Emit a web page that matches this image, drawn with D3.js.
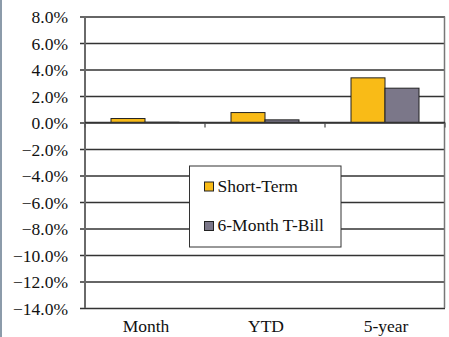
<!DOCTYPE html>
<html>
<head>
<meta charset="utf-8">
<script src="https://cdn.jsdelivr.net/npm/d3@7"></script>
<style>
  html, body { margin: 0; padding: 0; background: #fff; }
  svg { display: block; }
</style>
</head>
<body>
<svg id="chart" width="449" height="337"></svg>
<script>
// Returns by period
const categories = ["Month", "YTD", "5-year"];
const seriesNames = ["Short-Term", "6-Month T-Bill"];
const shortTerm = [0.0030, 0.0075, 0.0337];
const tBill = [0.0002, 0.0020, 0.0259];
const yTicks = [0.08, 0.06, 0.04, 0.02, 0, -0.02, -0.04, -0.06, -0.08, -0.10, -0.12, -0.14];
const colors = ["#F9BB17", "#7B7789"];

const FONT = "'Liberation Serif', 'DejaVu Serif', serif";
const svg = d3.select("#chart");
const W = 449, H = 337;
const m = { left: 85, right: 445, top: 16.5, bottom: 308 };

// thin frame strip on the left edge
svg.append("rect").attr("x", 0).attr("y", 0).attr("width", 2).attr("height", H).attr("fill", "#8C9BAA");

const y = d3.scaleLinear().domain([-0.14, 0.08]).range([m.bottom, m.top]);
const x = d3.scaleBand().domain(categories).range([m.left, m.right]).padding(0);
const xs = d3.scaleBand().domain(seriesNames).range([26, x.bandwidth() - 26]).padding(0);

// gridlines with outward ticks
const yAxis = d3.axisLeft(y).tickValues(yTicks).tickSize(m.right - m.left + 5)
  .tickFormat(d => d3.format(".1%")(d));
const gy = svg.append("g").attr("transform", `translate(${m.right},0)`).call(yAxis)
  .attr("font-family", FONT).attr("font-size", 17.5);
gy.select(".domain").remove();
gy.selectAll(".tick line").attr("stroke", "#333").attr("stroke-width", 1.3);
gy.selectAll(".tick text").attr("x", -(m.right - m.left) - 17).attr("dy", "0.35em")
  .attr("fill", "#111")
  .style("font-family", FONT).style("font-size", "17.5px");

// plot frame: left axis and right border
svg.append("line").attr("x1", m.left).attr("x2", m.left).attr("y1", m.top).attr("y2", m.bottom)
  .attr("stroke", "#6a6a6a").attr("stroke-width", 2);
svg.append("line").attr("x1", m.right - 0.5).attr("x2", m.right - 0.5).attr("y1", m.top).attr("y2", m.bottom)
  .attr("stroke", "#777").attr("stroke-width", 1.5);

// bars
const data = categories.map((c, i) => ({ cat: c, values: [shortTerm[i], tBill[i]] }));
const groups = svg.append("g").selectAll("g").data(data).join("g")
  .attr("transform", d => `translate(${x(d.cat)},0)`);
groups.selectAll("rect").data(d => d.values.map((v, j) => ({ v, s: seriesNames[j], j })))
  .join("rect")
  .attr("x", d => xs(d.s))
  .attr("width", xs.bandwidth())
  .attr("y", d => y(Math.max(0, d.v)))
  .attr("height", d => Math.abs(y(d.v) - y(0)))
  .attr("fill", d => colors[d.j])
  .attr("stroke", "#222").attr("stroke-width", 1);

// category axis on the zero line, ticks between categories
const boundaries = [m.left, ...categories.slice(1).map(c => x(c)), m.right];
svg.append("g").selectAll("line").data(boundaries).join("line")
  .attr("x1", d => d).attr("x2", d => d)
  .attr("y1", y(0)).attr("y2", y(0) + 5)
  .attr("stroke", "#555").attr("stroke-width", 1.3);
svg.append("line").attr("x1", m.left).attr("x2", m.right).attr("y1", y(0)).attr("y2", y(0))
  .attr("stroke", "#333").attr("stroke-width", 1.3);

svg.append("g").selectAll("text").data(categories).join("text")
  .attr("x", d => x(d) + x.bandwidth() / 2 + 1)
  .attr("y", 332)
  .attr("text-anchor", "middle")
  .attr("fill", "#111")
  .style("font-family", FONT).style("font-size", "17.5px")
  .text(d => d);

// legend
const lg = svg.append("g");
lg.append("rect").attr("x", 189.5).attr("y", 166).attr("width", 151.5).attr("height", 81)
  .attr("fill", "#fff").attr("stroke", "#333").attr("stroke-width", 1);
seriesNames.forEach((s, i) => {
  const yy = 182 + i * 39.5;
  lg.append("rect").attr("x", 204.5).attr("y", yy).attr("width", 9).attr("height", 9)
    .attr("fill", colors[i]).attr("stroke", "#222").attr("stroke-width", 1);
  lg.append("text").attr("x", 217.5).attr("y", yy + 9.5)
    .attr("fill", "#111")
    .style("font-family", FONT).style("font-size", "17.5px").text(s);
});
</script>
</body>
</html>
